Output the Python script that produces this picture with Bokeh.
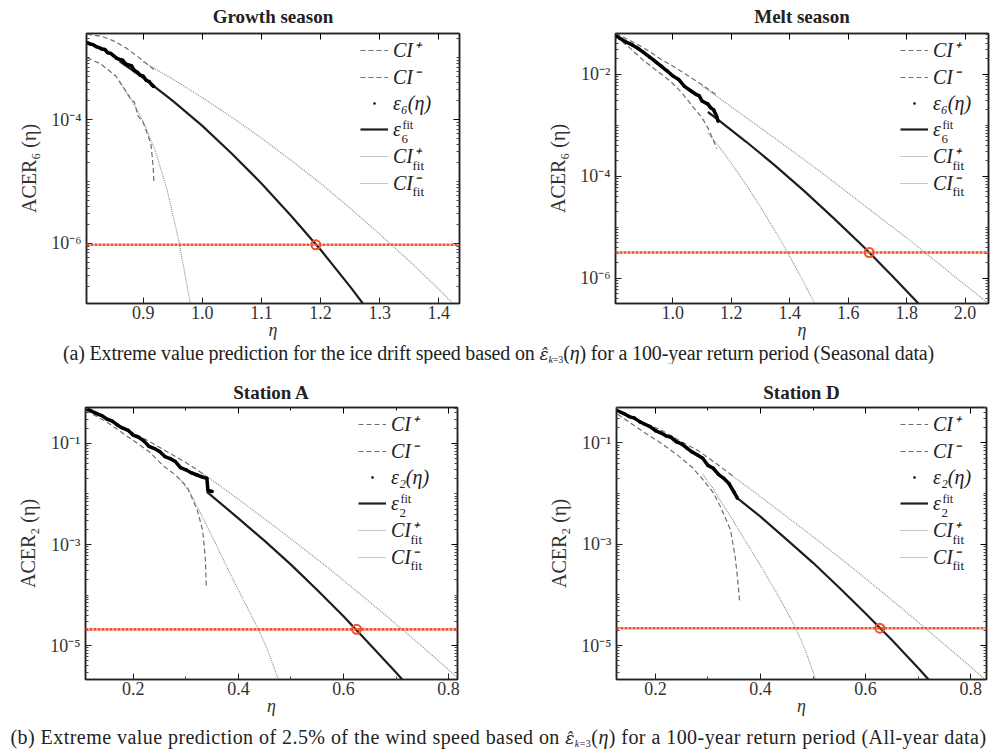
from bokeh.plotting import figure
from bokeh.layouts import column, row
from bokeh.models import (FixedTicker, LinearAxis, LogAxis, Legend, LegendItem, Label, Div,
                          CustomJSTickFormatter, PrintfTickFormatter, Range1d, Span)
from bokeh.embed import file_html
from bokeh.resources import INLINE

SERIF = "Liberation Serif"

# ---------------- data ----------------
# (a) Growth season
g_data_eta = [0.805, 0.810, 0.815, 0.820, 0.825, 0.830, 0.835, 0.840, 0.845, 0.850, 0.855, 0.860,
              0.865, 0.870, 0.875, 0.880, 0.885, 0.890, 0.895, 0.900, 0.905, 0.910, 0.915, 0.918]
g_data_val = [1.74e-3, 1.66e-3, 1.62e-3, 1.51e-3, 1.45e-3, 1.38e-3, 1.35e-3, 1.20e-3, 1.17e-3, 1.07e-3,
              9.8e-4, 9.3e-4, 9.1e-4, 7.9e-4, 7.6e-4, 7.4e-4, 6.2e-4, 5.8e-4, 5.2e-4, 5.0e-4, 4.3e-4,
              4.1e-4, 3.6e-4, 3.4e-4]
g_fit_eta = [0.86, 0.90, 0.95, 1.00, 1.05, 1.10, 1.15, 1.20, 1.25, 1.30]
g_fit_val = [8.7e-4, 4.7e-4, 2.0e-4, 7.9e-5, 2.8e-5, 9.3e-6, 2.8e-6, 7.9e-7, 2.0e-7, 4.7e-8]
g_cip_eta = [0.805, 0.83, 0.85, 0.87, 0.89, 0.91, 0.92]
g_cip_val = [2.4e-3, 2.2e-3, 1.86e-3, 1.45e-3, 1.05e-3, 7.4e-4, 6.2e-4]
g_cim_eta = [0.805, 0.828, 0.853, 0.865, 0.878, 0.885, 0.891, 0.900, 0.908, 0.913, 0.915, 0.917, 0.918]
g_cim_val = [1.0e-3, 7.9e-4, 5.1e-4, 3.5e-4, 2.2e-4, 1.9e-4, 1.15e-4, 8.9e-5, 5.5e-5, 4.0e-5, 2.6e-5,
             1.6e-5, 9.5e-6]
g_cipf_eta = [0.90, 0.95, 1.00, 1.05, 1.10, 1.15, 1.20, 1.25, 1.30, 1.35, 1.40, 1.45]
g_cipf_val = [8.5e-4, 4.5e-4, 2.25e-4, 1.09e-4, 5.0e-5, 2.2e-5, 9.3e-6, 3.7e-6, 1.41e-6, 5.2e-7,
              1.82e-7, 6.0e-8]
g_cimf_eta = [0.86, 0.88, 0.90, 0.92, 0.94, 0.96, 0.98, 0.985]
g_cimf_val = [4.0e-4, 2.1e-4, 9.3e-5, 3.2e-5, 7.6e-6, 1.12e-6, 1.02e-7, 5.0e-8]
g_pred = (1.192, 9.5e-7)

# (a) Melt season
m_data_eta = [0.805, 0.82, 0.84, 0.86, 0.88, 0.90, 0.92, 0.94, 0.96, 0.98, 1.00, 1.02, 1.04, 1.06,
              1.08, 1.09, 1.10, 1.12, 1.13, 1.14, 1.15, 1.155]
m_data_val = [0.0575, 0.0501, 0.0427, 0.038, 0.0324, 0.0269, 0.0219, 0.0178, 0.0145, 0.0117, 0.0093,
              0.0079, 0.0058, 0.0048, 0.0040, 0.0038, 0.0030, 0.0026, 0.0022, 0.0020, 0.0015, 0.0012]
m_fit_eta = [1.12, 1.15, 1.25, 1.35, 1.45, 1.55, 1.65, 1.75, 1.85, 1.87]
m_fit_val = [1.82e-3, 1.35e-3, 4.8e-4, 1.62e-4, 5.1e-5, 1.51e-5, 4.3e-6, 1.12e-6, 2.8e-7, 2.1e-7]
m_cip_eta = [0.805, 0.85, 0.90, 0.958, 1.00, 1.051, 1.10, 1.154]
m_cip_val = [0.063, 0.047, 0.033, 0.020, 0.0145, 0.0095, 0.0062, 0.0038]
m_cim_eta = [0.805, 0.85, 0.90, 0.95, 0.993, 1.03, 1.072, 1.10, 1.12, 1.14, 1.15]
m_cim_val = [0.055, 0.034, 0.0186, 0.0112, 0.0072, 0.0044, 0.0022, 0.0014, 8.9e-4, 4.9e-4, 3.5e-4]
m_cipf_eta = [1.10, 1.20, 1.30, 1.40, 1.50, 1.60, 1.70, 1.80, 1.90, 2.00, 2.10]
m_cipf_val = [5.9e-3, 2.3e-3, 8.9e-4, 3.4e-4, 1.29e-4, 4.7e-5, 1.7e-5, 6.2e-6, 2.15e-6, 7.4e-7, 2.6e-7]
m_cimf_eta = [1.12, 1.16, 1.20, 1.25, 1.30, 1.35, 1.40, 1.45, 1.50]
m_cimf_val = [7.1e-4, 3.7e-4, 1.8e-4, 7.0e-5, 2.5e-5, 8.5e-6, 2.7e-6, 7.9e-7, 2.2e-7]
m_pred = (1.672, 3.2e-6)

# (b) Station A
a_data_eta = [0.11, 0.12, 0.13, 0.14, 0.15, 0.16, 0.17, 0.18, 0.19, 0.20, 0.21, 0.22, 0.23, 0.24,
              0.25, 0.26, 0.27, 0.28, 0.29, 0.30, 0.31, 0.32, 0.33, 0.34, 0.342, 0.35]
a_data_val = [0.49, 0.437, 0.389, 0.355, 0.302, 0.275, 0.229, 0.20, 0.182, 0.145, 0.132, 0.112, 0.087,
              0.079, 0.069, 0.055, 0.050, 0.0437, 0.033, 0.030, 0.0263, 0.024, 0.0219, 0.0204, 0.0117,
              0.0112]
a_fit_eta = [0.34, 0.40, 0.45, 0.50, 0.55, 0.60, 0.65, 0.70, 0.73]
a_fit_val = [0.011, 3.3e-3, 1.18e-3, 4.0e-4, 1.26e-4, 3.8e-5, 1.07e-5, 2.95e-6, 1.32e-6]
a_cip_eta = [0.112, 0.15, 0.194, 0.23, 0.27, 0.30, 0.337]
a_cip_val = [0.51, 0.33, 0.174, 0.11, 0.063, 0.042, 0.0234]
a_cim_eta = [0.11, 0.15, 0.194, 0.23, 0.257, 0.28, 0.303, 0.322, 0.332, 0.337, 0.339]
a_cim_val = [0.447, 0.263, 0.126, 0.069, 0.036, 0.024, 0.0135, 4.7e-3, 1.9e-3, 5.5e-4, 1.41e-4]
a_cipf_eta = [0.33, 0.38, 0.43, 0.48, 0.53, 0.58, 0.63, 0.68, 0.73, 0.78, 0.83]
a_cipf_val = [0.0263, 0.0112, 4.6e-3, 1.87e-3, 7.4e-4, 2.9e-4, 1.08e-4, 4.0e-5, 1.45e-5, 5.1e-6, 1.74e-6]
a_cimf_eta = [0.29, 0.309, 0.33, 0.347, 0.365, 0.381, 0.40, 0.42, 0.438, 0.457, 0.476, 0.485]
a_cimf_val = [0.019, 0.0102, 3.8e-3, 1.66e-3, 6.9e-4, 3.1e-4, 1.26e-4, 4.9e-5, 2.1e-5, 7.6e-6, 2.14e-6,
              1.12e-6]
a_pred = (0.625, 2.1e-5)

# (b) Station D
d_data_eta = [0.128, 0.14, 0.15, 0.16, 0.17, 0.18, 0.19, 0.20, 0.21, 0.22, 0.23, 0.24, 0.25, 0.26,
              0.27, 0.28, 0.29, 0.30, 0.31, 0.32, 0.33, 0.34, 0.35, 0.356]
d_data_val = [0.427, 0.38, 0.331, 0.309, 0.263, 0.234, 0.209, 0.174, 0.158, 0.138, 0.129, 0.105, 0.0955,
              0.079, 0.066, 0.0575, 0.050, 0.036, 0.0316, 0.024, 0.020, 0.0158, 0.0105, 8.1e-3]
d_fit_eta = [0.356, 0.40, 0.45, 0.50, 0.55, 0.60, 0.65, 0.70, 0.74]
d_fit_val = [8.1e-3, 3.5e-3, 1.23e-3, 4.3e-4, 1.38e-4, 4.3e-5, 1.29e-5, 3.6e-6, 1.26e-6]
d_cip_eta = [0.128, 0.17, 0.21, 0.25, 0.28, 0.324, 0.349]
d_cip_val = [0.447, 0.263, 0.182, 0.105, 0.072, 0.034, 0.0214]
d_cim_eta = [0.128, 0.177, 0.21, 0.242, 0.27, 0.291, 0.31, 0.324, 0.343, 0.352, 0.358, 0.36]
d_cim_val = [0.37, 0.166, 0.10, 0.0575, 0.033, 0.0186, 0.0105, 5.5e-3, 1.9e-3, 5.5e-4, 1.41e-4, 7.8e-5]
d_cipf_eta = [0.34, 0.40, 0.45, 0.50, 0.55, 0.60, 0.65, 0.70, 0.75, 0.80, 0.85]
d_cipf_val = [0.0251, 8.7e-3, 3.5e-3, 1.41e-3, 5.5e-4, 2.1e-4, 7.9e-5, 2.9e-5, 1.05e-5, 3.8e-6, 1.32e-6]
d_cimf_eta = [0.29, 0.31, 0.324, 0.349, 0.375, 0.40, 0.425, 0.45, 0.467, 0.485, 0.505, 0.515]
d_cimf_val = [0.024, 0.0126, 7.2e-3, 2.8e-3, 1.0e-3, 3.8e-4, 1.38e-4, 4.8e-5, 2.2e-5, 8.3e-6, 2.14e-6,
              1.0e-6]
d_pred = (0.627, 2.2e-5)

titles = ["Growth season", "Melt season", "Station A", "Station D"]
ylabels = ["ACER\u2086 (\u03b7)", "ACER\u2086 (\u03b7)", "ACER\u2082 (\u03b7)", "ACER\u2082 (\u03b7)"]
k_sub = ["6", "6", "2", "2"]
EPS_HAT = ("<i style=\"font-family:'DejaVu Serif';font-size:17px\">\u03b5\u0302</i>"
           "<span style='font-size:10px;vertical-align:-3px'><i>k</i>=3</span>(<i>\u03b7</i>)")
caption_a = ("(a) Extreme value prediction for the ice drift speed based on " + EPS_HAT +
             " for a 100-year return period (Seasonal data)")
caption_b = ("(b) Extreme value prediction of 2.5% of the wind speed based on " + EPS_HAT +
             " for a 100-year return period (All-year data)")

SUP_JS = """
const sup = {"-":"\\u207B","0":"\\u2070","1":"\\u00B9","2":"\\u00B2","3":"\\u00B3","4":"\\u2074",
             "5":"\\u2075","6":"\\u2076","7":"\\u2077","8":"\\u2078","9":"\\u2079"};
const e = Math.round(Math.log10(tick));
return "10" + String(e).split("").map(c => sup[c]).join("");
"""

RED = "#f0502e"
DASH_C = "#6e6e6e"
DOT_C = "#8c8c8c"


def decade_minors(lo, hi, majors):
    out = []
    for e in range(lo, hi + 1):
        for m in range(1, 10):
            v = m * 10.0 ** e
            if m == 1 and v in majors:
                continue
            out.append(v)
    return out


def panel(idx, W, H, bl, br, bt, bb, xr, yr, xt, xminor, yt, ydec,
          de, dv, fe, fv, pe, pv, me, mv, pfe, pfv, mfe, mfv, pred, legx, tstand):
    p = figure(width=W, height=H, y_axis_type="log", x_range=Range1d(*xr), y_range=Range1d(*yr),
               output_backend="svg", toolbar_location=None,
               min_border_left=bl, min_border_right=br, min_border_top=bt, min_border_bottom=bb,
               title=titles[idx])
    p.title.align = "center"
    p.title.vertical_align = "top"
    p.title.text_font = SERIF
    p.title.text_font_size = "19px"
    p.title.text_font_style = "bold"
    p.title.text_color = "#222"
    p.title.standoff = tstand
    p.xgrid.visible = False
    p.ygrid.visible = False
    p.outline_line_color = "#222"
    p.outline_line_width = 1.5
    p.background_fill_color = "white"
    p.border_fill_color = "white"

    yminor = decade_minors(ydec[0], ydec[1], yt)
    xa = p.xaxis[0]
    xa.ticker = FixedTicker(ticks=xt, minor_ticks=xminor)
    xa.formatter = PrintfTickFormatter(format="%.1f")
    ya = p.yaxis[0]
    ya.ticker = FixedTicker(ticks=yt, minor_ticks=yminor)
    ya.formatter = CustomJSTickFormatter(code=SUP_JS)
    xa.axis_label = "\u03b7"
    ya.axis_label = ylabels[idx]
    for ax in (xa, ya):
        ax.major_tick_in = 6
        ax.major_tick_out = 0
        ax.minor_tick_in = 3
        ax.minor_tick_out = 0
        ax.axis_line_width = 1.5
        ax.axis_line_color = "#222"
        ax.major_tick_line_color = "#222"
        ax.minor_tick_line_color = "#444"
        ax.major_label_text_font = SERIF
        ax.major_label_text_font_size = "18px"
        ax.major_label_text_color = "#333"
        ax.axis_label_text_font = SERIF
        ax.axis_label_text_font_size = "20px"
        ax.axis_label_text_color = "#333"
        ax.axis_label_text_font_style = "normal"
    xa.axis_label_text_font_style = "italic"
    xa.axis_label_text_font_size = "18px"
    xa.major_label_standoff = 2
    xa.axis_label_standoff = -2
    ya.major_label_standoff = 5
    ya.axis_label_standoff = 8

    top = LinearAxis(ticker=FixedTicker(ticks=xt, minor_ticks=xminor), major_label_text_font_size="1px",
                     major_label_text_alpha=0, major_label_standoff=0, major_tick_in=6, major_tick_out=0,
                     minor_tick_in=3, minor_tick_out=0, axis_line_width=1.5, axis_line_color="#222")
    p.add_layout(top, "above")
    right = LogAxis(ticker=FixedTicker(ticks=yt, minor_ticks=yminor), major_label_text_font_size="1px",
                    major_label_text_alpha=0, major_label_standoff=0, major_tick_in=6, major_tick_out=0,
                    minor_tick_in=3, minor_tick_out=0, axis_line_width=1.5, axis_line_color="#222",
                    minor_tick_line_color="#444")
    p.add_layout(right, "right")

    r_pf = p.line(pfe, pfv, line_color=DOT_C, line_width=1.1, line_dash="1 1")
    r_mf = p.line(mfe, mfv, line_color=DOT_C, line_width=1.1, line_dash="1 1")
    r_p = p.line(pe, pv, line_color=DASH_C, line_width=1.2, line_dash="5 3")
    r_m = p.line(me, mv, line_color=DASH_C, line_width=1.2, line_dash="5 3")
    r_f = p.line(fe, fv, line_color="#1e1e1e", line_width=2.2)
    p.line(de, dv, line_color="#000", line_width=3.5)
    r_d = p.scatter(de, dv, marker="dot", size=14, color="#000")
    p.add_layout(Span(location=pred[1], dimension="width", line_color=RED, line_width=2.6,
                      line_dash="3 1"))
    p.scatter([pred[0]], [pred[1]], marker="circle", size=9, fill_color=None, line_color=RED,
              line_width=2)

    k = k_sub[idx]
    fh = H - bt - bb
    RH = 26
    pad = 0
    leg_h = 6 * RH + 2 * pad
    leg_top = 7
    legend = Legend(items=[
        LegendItem(label="CI\u207a", renderers=[r_p]),
        LegendItem(label="CI\u207b", renderers=[r_m]),
        LegendItem(label="\u03b5" + chr(0x2080 + int(k)) + "(\u03b7)", renderers=[r_d]),
        LegendItem(label="\u03b5", renderers=[r_f]),
        LegendItem(label="CI\u207a", renderers=[r_pf]),
        LegendItem(label="CI\u207b", renderers=[r_mf]),
    ], location=(legx, fh - leg_top - leg_h), padding=pad, margin=0, spacing=0,
        label_height=RH, glyph_height=RH, glyph_width=28, label_standoff=5,
        label_text_font=SERIF, label_text_font_size="20px", label_text_font_style="italic",
        label_text_color="#222", border_line_alpha=0, background_fill_alpha=0)
    p.add_layout(legend)
    tx = legx + pad + 28 + 5

    def rowy(i):
        return fh - leg_top - pad - RH / 2 - i * RH

    sub_style = dict(x_units="screen", y_units="screen", text_font=SERIF, text_color="#222",
                     text_baseline="middle")
    p.add_layout(Label(x=tx + 9, y=rowy(3) + 7, text="fit", text_font_size="12px", **sub_style))
    p.add_layout(Label(x=tx + 8, y=rowy(3) - 7, text=k, text_font_size="13px", **sub_style))
    p.add_layout(Label(x=tx + 19, y=rowy(4) - 8, text="fit", text_font_size="13px", **sub_style))
    p.add_layout(Label(x=tx + 19, y=rowy(5) - 8, text="fit", text_font_size="13px", **sub_style))
    return p


p1 = panel(0, 497, 343, 86, 38, 33, 40, (0.804, 1.435), (1.07e-7, 2.45e-3),
           [0.9, 1.0, 1.1, 1.2, 1.3, 1.4], [], [1e-6, 1e-4], (-8, -2),
           g_data_eta, g_data_val, g_fit_eta, g_fit_val, g_cip_eta, g_cip_val, g_cim_eta, g_cim_val,
           g_cipf_eta, g_cipf_val, g_cimf_eta, g_cimf_val, g_pred, 274, 9)
p2 = panel(1, 500, 343, 118, 9, 33, 40, (0.804, 2.08), (3.2e-7, 6.3e-2),
           [1.0, 1.2, 1.4, 1.6, 1.8, 2.0], [], [1e-6, 1e-4, 1e-2], (-7, -1),
           m_data_eta, m_data_val, m_fit_eta, m_fit_val, m_cip_eta, m_cip_val, m_cim_eta, m_cim_val,
           m_cipf_eta, m_cipf_val, m_cimf_eta, m_cimf_val, m_pred, 285, 9)
p3 = panel(2, 497, 364, 85, 40, 44, 48, (0.109, 0.817), (2.14e-6, 0.513),
           [0.2, 0.4, 0.6, 0.8], [0.3, 0.5, 0.7], [1e-5, 1e-3, 1e-1], (-6, 0),
           a_data_eta, a_data_val, a_fit_eta, a_fit_val, a_cip_eta, a_cip_val, a_cim_eta, a_cim_val,
           a_cipf_eta, a_cipf_val, a_cimf_eta, a_cimf_val, a_pred, 273, 6)
p4 = panel(3, 500, 364, 119, 11, 44, 48, (0.126, 0.83), (2.14e-6, 0.50),
           [0.2, 0.4, 0.6, 0.8], [0.3, 0.5, 0.7], [1e-5, 1e-3, 1e-1], (-6, 0),
           d_data_eta, d_data_val, d_fit_eta, d_fit_val, d_cip_eta, d_cip_val, d_cim_eta, d_cim_val,
           d_cipf_eta, d_cipf_val, d_cimf_eta, d_cimf_val, d_pred, 284, 6)


def caption(html, h, ls):
    return Div(text=f"<div style=\"width:997px;text-align:center;font-family:'{SERIF}';"
                    f"font-size:20px;letter-spacing:{ls}px;line-height:20px;color:#222;"
                    f"white-space:nowrap\">{html}</div>",
               width=997, height=h, margin=0)


layout = column(row(p1, p2, spacing=0), caption(caption_a, 20, -0.15), row(p3, p4, spacing=0),
                caption(caption_b, 24, 0.45), spacing=0)
open("out.html", "w").write(file_html(layout, INLINE))
